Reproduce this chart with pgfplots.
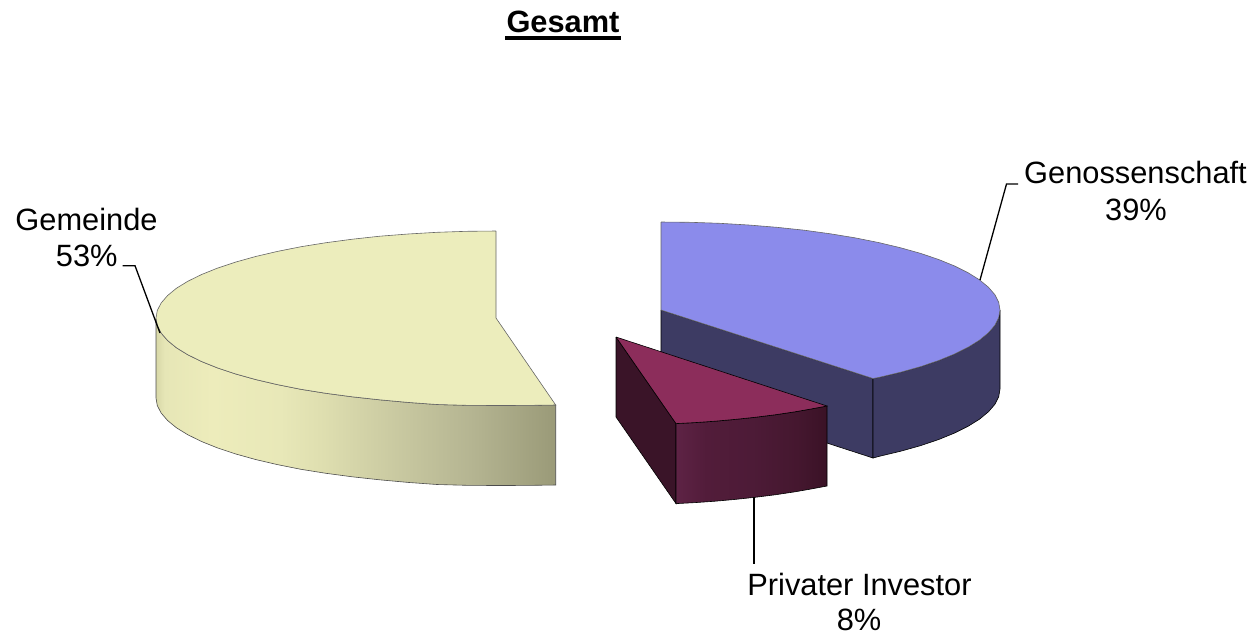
\documentclass[border=0pt]{standalone}
\usepackage{fontspec}
\setmainfont{Liberation Sans}
\usepackage{pgfplots}
\pgfplotsset{compat=1.18}
\definecolor{gemtop}{HTML}{ECEDBC}
\definecolor{gemA}{HTML}{D8D8A8}
\definecolor{gemB}{HTML}{E6E6B6}
\definecolor{gemC}{HTML}{EDECBB}
\definecolor{gemD}{HTML}{E8E8B8}
\definecolor{gemE}{HTML}{DFDFB0}
\definecolor{gemF}{HTML}{C8C8A0}
\definecolor{gemG}{HTML}{B5B592}
\definecolor{gemH}{HTML}{9A9A78}
\definecolor{blutop}{HTML}{8B8BEB}
\definecolor{bluside}{HTML}{3D3B63}
\definecolor{magtop}{HTML}{8C2D5B}
\definecolor{magA}{HTML}{5E2345}
\definecolor{magB}{HTML}{521C3A}
\definecolor{magC}{HTML}{4D1B37}
\definecolor{magD}{HTML}{45172F}
\definecolor{magE}{HTML}{3A1226}
\definecolor{magleft}{HTML}{3A1428}
\pgfdeclarehorizontalshading{gemside}{100bp}{color(0bp)=(gemA);color(25bp)=(gemA);color(26.1bp)=(gemB);color(32bp)=(gemC);color(40.5bp)=(gemD);color(45.5bp)=(gemE);color(55.5bp)=(gemF);color(64.3bp)=(gemG);color(75bp)=(gemH);color(100bp)=(gemH)}
\pgfdeclarehorizontalshading{magside}{100bp}{color(0bp)=(magA);color(25bp)=(magA);color(35bp)=(magB);color(50bp)=(magC);color(65bp)=(magD);color(75bp)=(magE);color(100bp)=(magE)}
\newcommand{\lab}{\fontsize{15.4}{18}\selectfont}
\begin{document}
\begin{tikzpicture}
\path[use as bounding box] (0,0) rectangle (628.5pt,317pt);
\begin{axis}[
  at={(0,0)}, anchor=south west,
  scale only axis, width=628.5pt, height=317pt,
  xmin=0, xmax=1257, ymin=0, ymax=634, y dir=reverse,
  hide axis, clip=false]
% Genossenschaft 39%
\addplot[fill=bluside, draw=black, line width=.3pt] coordinates {(661,310) (873,378.5) (873,458) (661,389) (661,310)};
\addplot[fill=bluside, draw=black, line width=.3pt] coordinates {(1000,310) (998.7,317.7) (994.9,325.3) (988.4,332.8) (979.6,340.1) (968.2,347.2) (954.6,354) (938.7,360.5) (920.7,366.6) (900.7,372.2) (878.9,377.4) (873,378.5) (873,458) (878.9,456.4) (900.7,451.2) (920.7,445.6) (938.7,439.5) (954.6,433) (968.2,426.2) (979.6,419.1) (988.4,411.8) (994.9,404.3) (998.7,396.7) (1000,389) (1000,310)};
\addplot[fill=blutop, draw=black!60, line width=.3pt] coordinates {(661,222) (690.6,222.3) (719.9,223.3) (748.7,225) (776.9,227.3) (804.3,230.2) (830.5,233.8) (855.5,237.9) (878.9,242.6) (900.7,247.8) (920.7,253.4) (938.7,259.5) (954.6,266) (968.2,272.8) (979.6,279.9) (988.4,287.2) (994.9,294.7) (998.7,302.3) (1000,310) (998.7,317.7) (994.9,325.3) (988.4,332.8) (979.6,340.1) (968.2,347.2) (954.6,354) (938.7,360.5) (920.7,366.6) (900.7,372.2) (878.9,377.4) (873,378.5) (661,310) (661,222)};
% Gemeinde 53%
\addplot[shade, shading=gemside, draw=black!70, line width=.3pt] coordinates {(156,318) (156,398) (157.3,405.6) (161.2,413.1) (167.6,420.5) (176.5,427.8) (187.9,434.8) (201.6,441.5) (217.5,447.9) (235.5,453.9) (255.6,459.5) (277.4,464.6) (301,469.3) (326,473.3) (352.3,476.8) (379.7,479.8) (408,482.4) (437,484.5) (466.4,485.3) (496,485.5) (526,485.4) (555.7,485) (555.7,405) (526,405.4) (496,405.5) (466.4,405.3) (437,404.5) (408,402.4) (379.7,399.8) (352.3,396.8) (326,393.3) (301,389.3) (277.4,384.6) (255.6,379.5) (235.5,373.9) (217.5,367.9) (201.6,361.5) (187.9,354.8) (176.5,347.8) (167.6,340.5) (161.2,333.1) (157.3,325.6) (156,318)};
\addplot[fill=gemtop, draw=black!60, line width=.3pt] coordinates {(496,231) (466.4,231.3) (437,232.3) (408,234) (379.7,236.2) (352.3,239.2) (326,242.7) (301,246.7) (277.4,251.4) (255.6,256.5) (235.5,262.1) (217.5,268.1) (201.6,274.5) (187.9,281.2) (176.5,288.2) (167.6,295.5) (161.2,302.9) (157.3,310.4) (156,318) (157.3,325.6) (161.2,333.1) (167.6,340.5) (176.5,347.8) (187.9,354.8) (201.6,361.5) (217.5,367.9) (235.5,373.9) (255.6,379.5) (277.4,384.6) (301,389.3) (326,393.3) (352.3,396.8) (379.7,399.8) (408,402.4) (437,404.5) (466.4,405.3) (496,405.5) (526,405.4) (555.7,405) (496,318) (496,231)};
% Privater Investor 8%
\addplot[fill=magleft, draw=black, line width=.3pt] coordinates {(616,337) (676,423.6) (676,503.6) (616,417) (616,337)};
\addplot[shade, shading=magside, draw=black, line width=.3pt] coordinates {(676,423.6) (676,503.6) (695,502.6) (715,501.2) (735,499.4) (755,497.3) (775,494.8) (795,491.8) (811,489) (827,486) (827,406) (811,409) (795,411.8) (775,414.8) (755,417.3) (735,419.4) (715,421.2) (695,422.6) (676,423.6)};
\addplot[fill=magtop, draw=black, line width=.3pt] coordinates {(616,337) (676,423.6) (695,422.6) (715,421.2) (735,419.4) (755,417.3) (775,414.8) (795,411.8) (811,409) (827,406) (616,337)};
% leader lines
\addplot[black, line width=.65pt] coordinates {(980,280) (1006.5,184) (1018,184)};
\addplot[black, line width=.65pt] coordinates {(160,333) (135,265.7) (122.7,265.7)};
\addplot[black, line width=.65pt] coordinates {(754,497) (754,564)};
% title underline
\addplot[black, line width=2pt] coordinates {(505,38) (621,38)};
% labels
\node[anchor=base, inner sep=0pt] at (axis cs:563,32) {\lab\bfseries Gesamt};
\node[anchor=base, inner sep=0pt] at (axis cs:1135.5,183) {\lab Genossenschaft};
\node[anchor=base, inner sep=0pt] at (axis cs:1136,220) {\lab 39\%};
\node[anchor=base, inner sep=0pt] at (axis cs:86.5,230) {\lab Gemeinde};
\node[anchor=base, inner sep=0pt] at (axis cs:86.7,266) {\lab 53\%};
\node[anchor=base, inner sep=0pt] at (axis cs:859.5,595) {\lab Privater Investor};
\node[anchor=base, inner sep=0pt] at (axis cs:859,630) {\lab 8\%};
\end{axis}
\end{tikzpicture}
\end{document}
